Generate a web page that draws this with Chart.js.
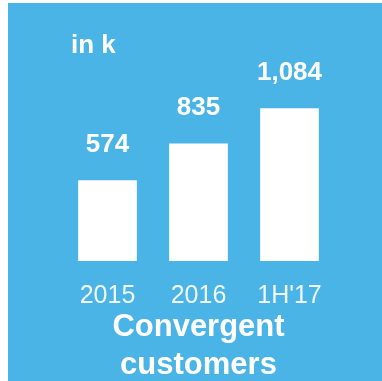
<!DOCTYPE html>
<html>
<head>
<meta charset="utf-8">
<script src="https://cdn.jsdelivr.net/npm/chart.js@4/dist/chart.umd.min.js"></script>
<style>
  html, body { margin: 0; padding: 0; background: #ffffff; }
  #panel {
    position: absolute;
    left: 8px;
    top: 3px;
    width: 374px;
    height: 378px;
    background: #4bb4e6;
  }
</style>
</head>
<body>
<div id="panel"><canvas id="customers-chart"></canvas></div>
<script>
  // Data untuk grafik
  const periods = ['2015', '2016', "1H'17"];
  const customers = [574, 835, 1084];
  const unitLabel = 'in k';
  const titleLines = ['Convergent', 'customers'];

  const FONT = "'Liberation Sans', Arial, Helvetica, sans-serif";

  // Value labels above each bar plus the unit note in the corner
  const valueLabels = {
    id: 'valueLabels',
    afterDatasetsDraw(chart) {
      const ctx = chart.ctx;
      const meta = chart.getDatasetMeta(0);
      ctx.save();
      ctx.fillStyle = '#ffffff';
      ctx.font = 'bold 26px ' + FONT;
      ctx.textAlign = 'center';
      ctx.textBaseline = 'alphabetic';
      meta.data.forEach((bar, i) => {
        ctx.fillText(customers[i].toLocaleString('en-US'), bar.x, bar.y - 28);
      });
      ctx.textAlign = 'left';
      ctx.fillText(unitLabel, 63, 50);
      ctx.restore();
    }
  };

  const ctx = document.getElementById('customers-chart').getContext('2d');
  const customersChart = new Chart(ctx, {
    type: 'bar',
    data: {
      labels: periods,
      datasets: [
        {
          data: customers,
          backgroundColor: '#ffffff',
          borderWidth: 0,
          categoryPercentage: 1,
          barPercentage: 0.645
        }
      ]
    },
    options: {
      responsive: true,
      maintainAspectRatio: false,
      animation: false,
      layout: {
        padding: { left: 54, right: 47, top: 89, bottom: 0 }
      },
      plugins: {
        legend: { display: false },
        tooltip: { enabled: false },
        title: {
          display: true,
          position: 'bottom',
          text: titleLines,
          color: '#ffffff',
          // negative padding lets the tick row sit closer to the title
          padding: { top: -23, bottom: -3 },
          font: { family: FONT, size: 31, weight: 'bold', lineHeight: '38px' }
        }
      },
      scales: {
        x: {
          grid: { display: false, drawTicks: false },
          border: { display: false },
          ticks: {
            color: 'rgba(255, 255, 255, 0.92)',
            padding: 20,
            font: { family: FONT, size: 25, lineHeight: '30px' }
          }
        },
        y: {
          display: false,
          min: 0,
          max: 1200
        }
      }
    },
    plugins: [valueLabels]
  });
</script>
</body>
</html>
